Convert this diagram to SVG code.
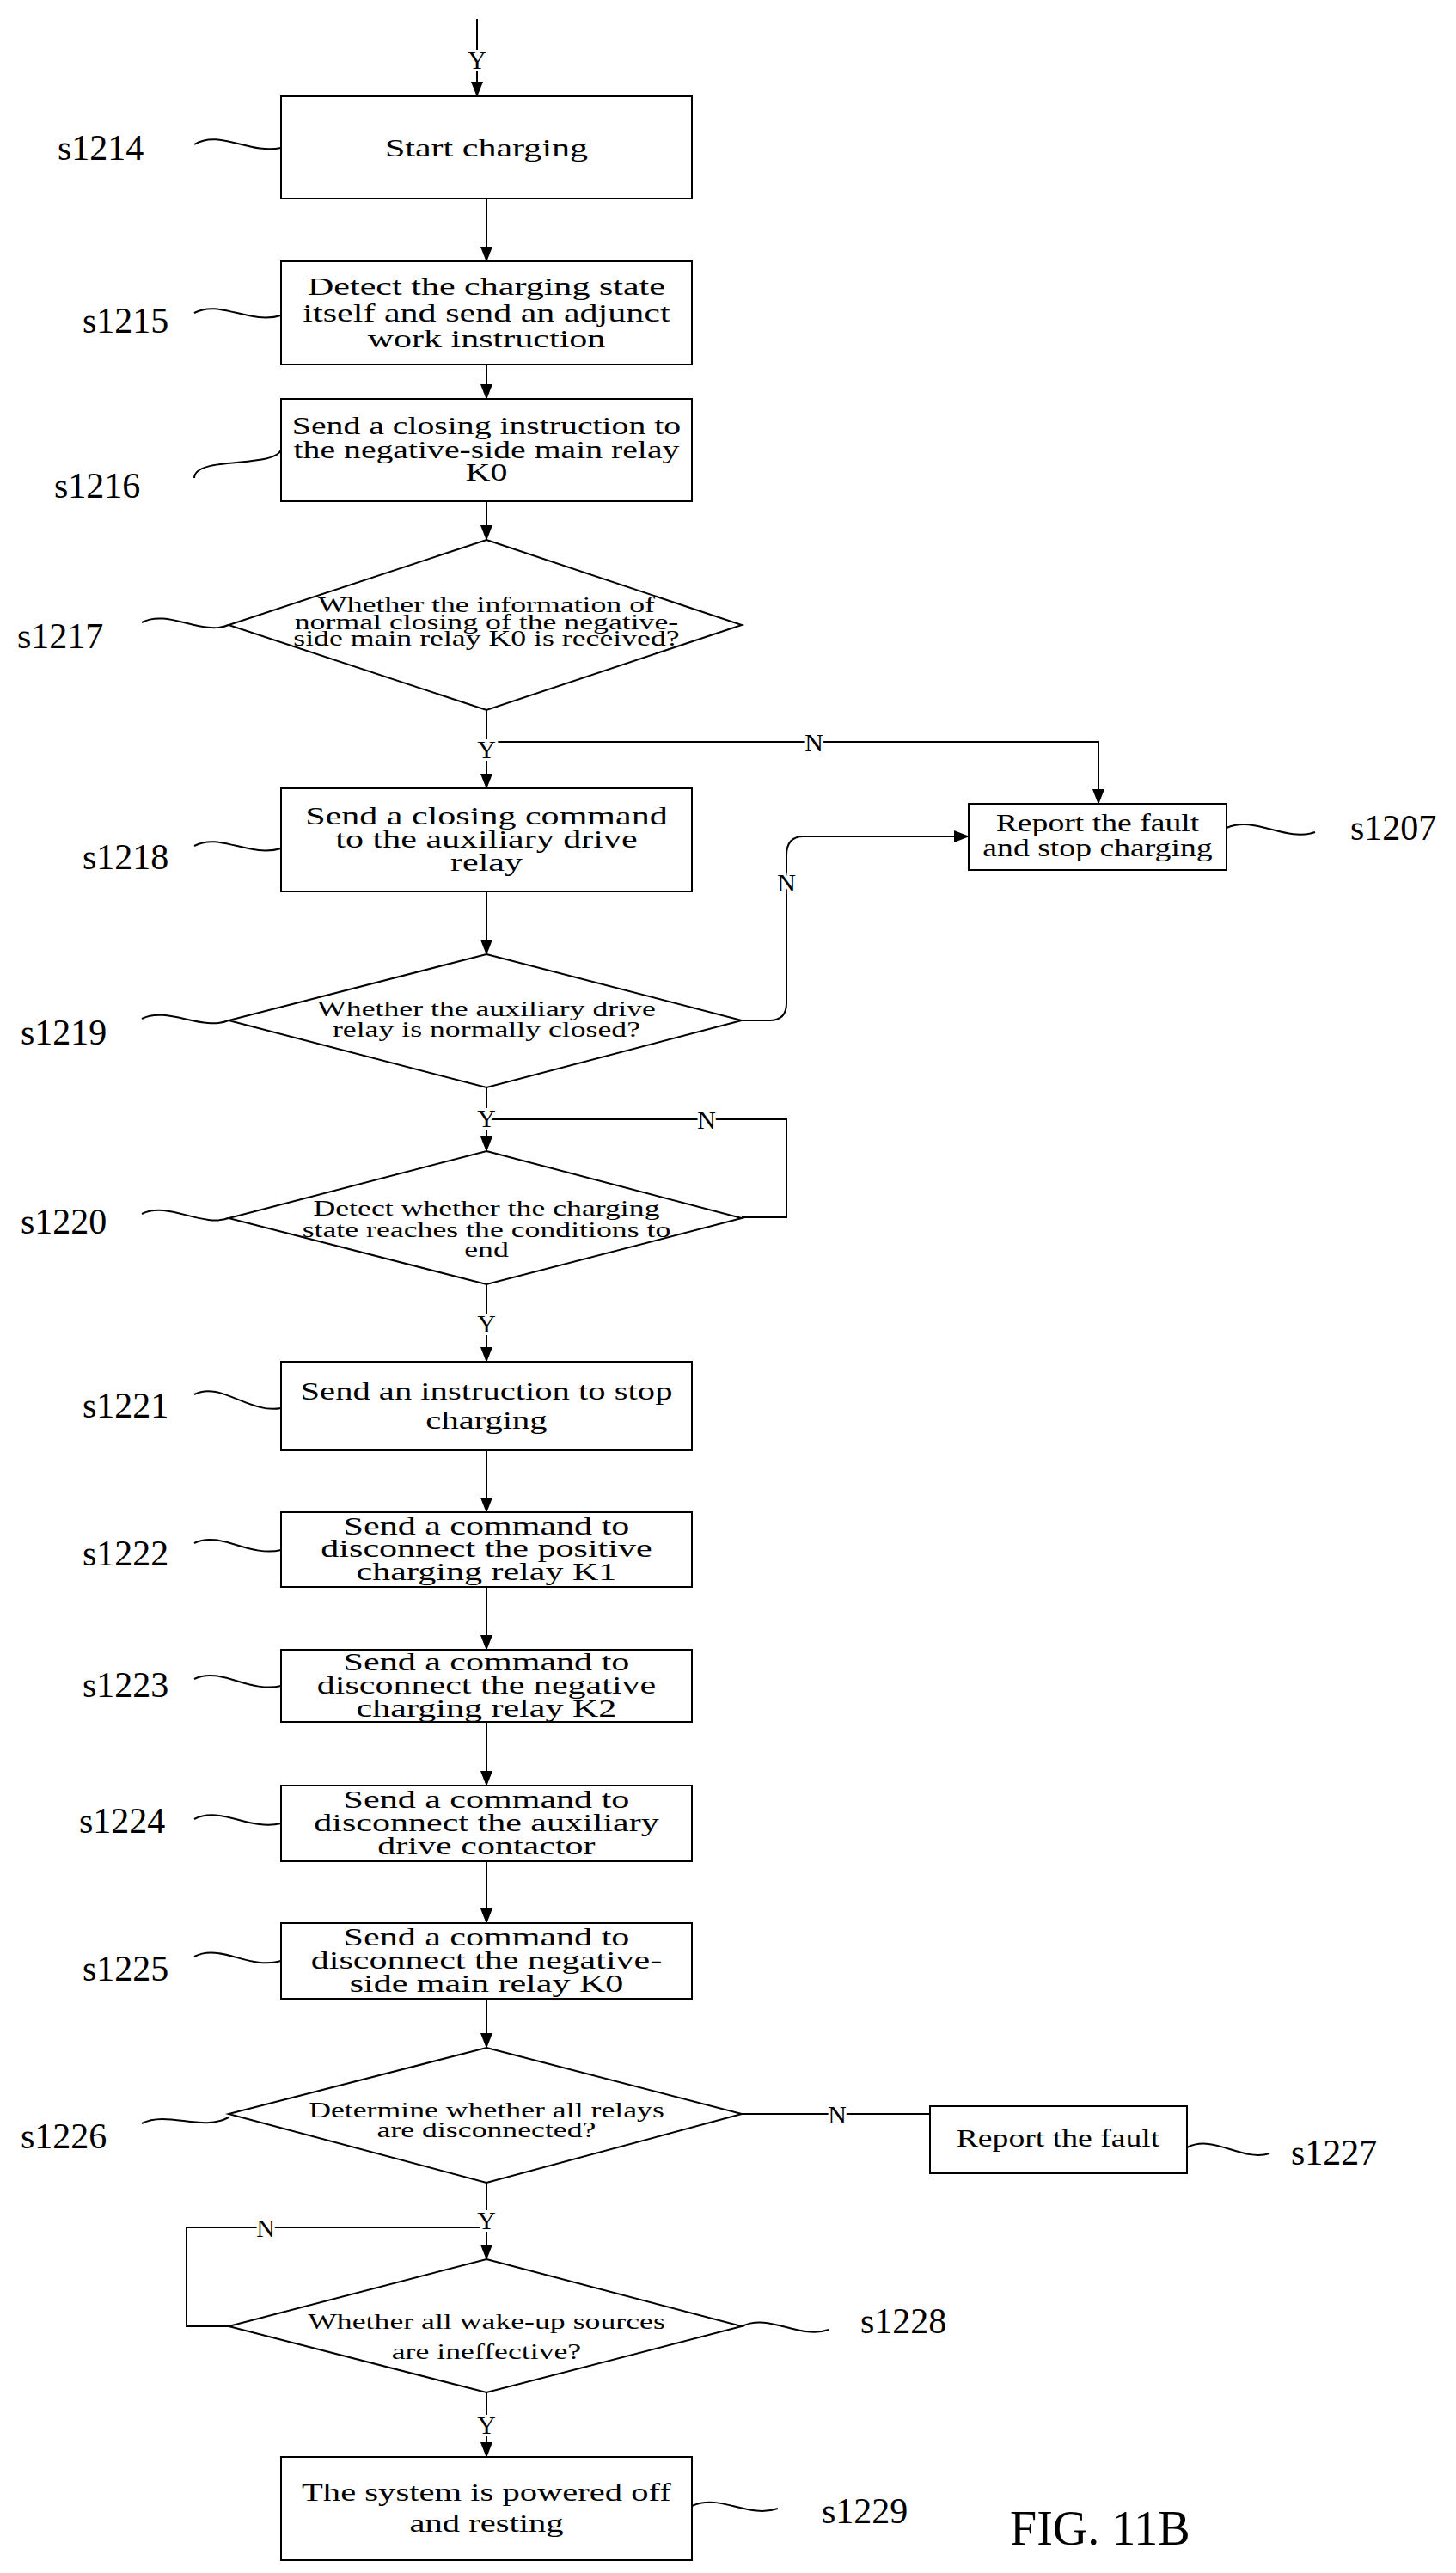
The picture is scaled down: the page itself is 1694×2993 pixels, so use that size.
<svg xmlns="http://www.w3.org/2000/svg" width="1694" height="2993" viewBox="0 0 1694 2993">
<style>
.s{fill:#fff;stroke:#000;stroke-width:2}
.t{font-family:"Liberation Serif",serif;font-size:29px;text-anchor:middle;dominant-baseline:central}
.d{font-family:"Liberation Serif",serif;font-size:25px;text-anchor:middle;dominant-baseline:central}
.l{font-family:"Liberation Serif",serif;font-size:42px;dominant-baseline:central}
.c{fill:none;stroke:#000;stroke-width:2}
.e{font-family:"Liberation Serif",serif;font-size:30px;text-anchor:middle;dominant-baseline:central;paint-order:stroke;stroke:#fff;stroke-width:6}
</style>
<defs>
<marker id="b" markerWidth="18" markerHeight="18" refX="17" refY="9" orient="auto" markerUnits="userSpaceOnUse" viewBox="0 0 18 18"><path d="M0,2 L18,9 L0,16 z" fill="#000"/></marker></defs>
<g id="connectors">
<path class="c" d="M555,22 V112" marker-end="url(#b)"/>
<path class="c" d="M566,231 V304" marker-end="url(#b)"/>
<path class="c" d="M566,424 V464" marker-end="url(#b)"/>
<path class="c" d="M566,583 V628" marker-end="url(#b)"/>
<path class="c" d="M566,826 V917" marker-end="url(#b)"/>
<path class="c" d="M566,863 H1278 V935" marker-end="url(#b)"/>
<path class="c" d="M566,1037 V1110" marker-end="url(#b)"/>
<path class="c" d="M863,1187 H895 Q915,1187 915,1167 V995 Q915,973 935,973 H1127" marker-end="url(#b)"/>
<path class="c" d="M566,1265 V1339" marker-end="url(#b)"/>
<path class="c" d="M566,1302 H915 V1416 H863"/>
<path class="c" d="M566,1494 V1584" marker-end="url(#b)"/>
<path class="c" d="M566,1687 V1759" marker-end="url(#b)"/>
<path class="c" d="M566,1846 V1919" marker-end="url(#b)"/>
<path class="c" d="M566,2003 V2077" marker-end="url(#b)"/>
<path class="c" d="M566,2165 V2237" marker-end="url(#b)"/>
<path class="c" d="M566,2325 V2382" marker-end="url(#b)"/>
<path class="c" d="M863,2459 H1082"/>
<path class="c" d="M566,2539 V2628" marker-end="url(#b)"/>
<path class="c" d="M566,2591 H217 V2706 H266"/>
<path class="c" d="M566,2783 V2858" marker-end="url(#b)"/>
<text class="e" x="555" y="69">Y</text>
<text class="e" x="566" y="871">Y</text>
<text class="e" x="947" y="863">N</text>
<text class="e" x="915" y="1026">N</text>
<text class="e" x="566" y="1300">Y</text>
<text class="e" x="822" y="1302">N</text>
<text class="e" x="566" y="1539">Y</text>
<text class="e" x="974" y="2459">N</text>
<text class="e" x="566" y="2582">Y</text>
<text class="e" x="309" y="2591">N</text>
<text class="e" x="566" y="2820">Y</text>
</g>
<g id="leaders" class="c">
<path d="M226,168 C256,150 290,180 327,172"/>
<path d="M226,364 C256,348 290,378 327,367"/>
<path d="M226,556 C226,530 320,545 327,523"/>
<path d="M165,724 C195,708 235,740 266,727"/>
<path d="M226,984 C256,968 290,998 327,987"/>
<path d="M165,1185 C195,1170 235,1200 266,1187"/>
<path d="M165,1412 C195,1397 235,1428 266,1417"/>
<path d="M226,1622 C256,1606 290,1645 327,1638"/>
<path d="M226,1795 C256,1780 290,1812 327,1803"/>
<path d="M226,1953 C256,1938 290,1970 327,1961"/>
<path d="M226,2116 C256,2100 290,2130 327,2121"/>
<path d="M226,2276 C256,2260 290,2292 327,2281"/>
<path d="M165,2470 C195,2455 235,2480 266,2463"/>
<path d="M1427,963 C1460,948 1495,980 1530,968"/>
<path d="M1381,2498 C1412,2482 1445,2515 1477,2505"/>
<path d="M863,2706 C895,2690 930,2722 964,2710"/>
<path d="M805,2915 C838,2900 870,2930 905,2918"/>
</g>
<g id="labels">
<text class="l" x="67" y="172">s1214</text>
<text class="l" x="96" y="373">s1215</text>
<text class="l" x="63" y="565">s1216</text>
<text class="l" x="20" y="740">s1217</text>
<text class="l" x="96" y="997">s1218</text>
<text class="l" x="24" y="1201">s1219</text>
<text class="l" x="24" y="1421">s1220</text>
<text class="l" x="96" y="1635">s1221</text>
<text class="l" x="96" y="1807">s1222</text>
<text class="l" x="96" y="1960">s1223</text>
<text class="l" x="92" y="2118">s1224</text>
<text class="l" x="96" y="2290">s1225</text>
<text class="l" x="24" y="2485">s1226</text>
<text class="l" x="1571" y="963">s1207</text>
<text class="l" x="1502" y="2504">s1227</text>
<text class="l" x="1001" y="2700">s1228</text>
<text class="l" x="956" y="2921">s1229</text>
<text class="l" x="1175" y="2941" style="font-size:56px">FIG. 11B</text>
</g>
<g id="n1214"><rect class="s" x="327" y="112" width="478" height="119"/><g transform="matrix(1.45,0,0,1,-254.7,0)"><text class="t" x="566" y="172">Start charging</text></g></g>
<g id="n1215"><rect class="s" x="327" y="304" width="478" height="120"/><g transform="matrix(1.45,0,0,1,-254.7,0)"><text class="t" x="566" y="333">Detect the charging state</text><text class="t" x="566" y="364">itself and send an adjunct</text><text class="t" x="566" y="394">work instruction</text></g></g>
<g id="n1216"><rect class="s" x="327" y="464" width="478" height="119"/><g transform="matrix(1.37,0,0,1,-209.42,0)"><text class="t" x="566" y="495">Send a closing instruction to</text><text class="t" x="566" y="523">the negative-side main relay</text><text class="t" x="566" y="549">K0</text></g></g>
<g id="n1217"><polygon class="s" points="566,628 863,727 566,826 266,727"/><g transform="matrix(1.43,0,0,1,-243.38,0)"><text class="d" x="566" y="704">Whether the information of</text><text class="d" x="566" y="724">normal closing of the negative-</text><text class="d" x="566" y="743">side main relay K0 is received?</text></g></g>
<g id="n1218"><rect class="s" x="327" y="917" width="478" height="120"/><g transform="matrix(1.45,0,0,1,-254.7,0)"><text class="t" x="566" y="949">Send a closing command</text><text class="t" x="566" y="976">to the auxiliary drive</text><text class="t" x="566" y="1003">relay</text></g></g>
<g id="n1207"><rect class="s" x="1127" y="935" width="300" height="77"/><g transform="matrix(1.3,0,0,1,-383.1,0)"><text class="t" x="1277" y="957">Report the fault</text><text class="t" x="1277" y="986">and stop charging</text></g></g>
<g id="n1219"><polygon class="s" points="566,1110 863,1187 566,1265 266,1187"/><g transform="matrix(1.43,0,0,1,-243.38,0)"><text class="d" x="566" y="1174">Whether the auxiliary drive</text><text class="d" x="566" y="1198">relay is normally closed?</text></g></g>
<g id="n1220"><polygon class="s" points="566,1339 863,1417 566,1494 266,1417"/><g transform="matrix(1.43,0,0,1,-243.38,0)"><text class="d" x="566" y="1406">Detect whether the charging</text><text class="d" x="566" y="1431">state reaches the conditions to</text><text class="d" x="566" y="1454">end</text></g></g>
<g id="n1221"><rect class="s" x="327" y="1584" width="478" height="103"/><g transform="matrix(1.4,0,0,1,-226.4,0)"><text class="t" x="566" y="1619">Send an instruction to stop</text><text class="t" x="566" y="1653">charging</text></g></g>
<g id="n1222"><rect class="s" x="327" y="1759" width="478" height="87"/><g transform="matrix(1.45,0,0,1,-254.7,0)"><text class="t" x="566" y="1775">Send a command to</text><text class="t" x="566" y="1801">disconnect the positive</text><text class="t" x="566" y="1828">charging relay K1</text></g></g>
<g id="n1223"><rect class="s" x="327" y="1919" width="478" height="84"/><g transform="matrix(1.45,0,0,1,-254.7,0)"><text class="t" x="566" y="1933">Send a command to</text><text class="t" x="566" y="1960">disconnect the negative</text><text class="t" x="566" y="1987">charging relay K2</text></g></g>
<g id="n1224"><rect class="s" x="327" y="2077" width="478" height="88"/><g transform="matrix(1.45,0,0,1,-254.7,0)"><text class="t" x="566" y="2093">Send a command to</text><text class="t" x="566" y="2120">disconnect the auxiliary</text><text class="t" x="566" y="2147">drive contactor</text></g></g>
<g id="n1225"><rect class="s" x="327" y="2237" width="478" height="88"/><g transform="matrix(1.45,0,0,1,-254.7,0)"><text class="t" x="566" y="2253">Send a command to</text><text class="t" x="566" y="2280">disconnect the negative-</text><text class="t" x="566" y="2307">side main relay K0</text></g></g>
<g id="n1226"><polygon class="s" points="566,2382 863,2459 566,2539 266,2459"/><g transform="matrix(1.43,0,0,1,-243.38,0)"><text class="d" x="566" y="2455">Determine whether all relays</text><text class="d" x="566" y="2478">are disconnected?</text></g></g>
<g id="n1227"><rect class="s" x="1082" y="2450" width="299" height="78"/><g transform="matrix(1.3,0,0,1,-369.3,0)"><text class="t" x="1231" y="2487">Report the fault</text></g></g>
<g id="n1228"><polygon class="s" points="566,2628 863,2706 566,2783 266,2706"/><g transform="matrix(1.43,0,0,1,-243.38,0)"><text class="d" x="566" y="2701">Whether all wake-up sources</text><text class="d" x="566" y="2736">are ineffective?</text></g></g>
<g id="n1229"><rect class="s" x="327" y="2858" width="478" height="120"/><g transform="matrix(1.4,0,0,1,-226.4,0)"><text class="t" x="566" y="2900">The system is powered off</text><text class="t" x="566" y="2936">and resting</text></g></g>
</svg>
